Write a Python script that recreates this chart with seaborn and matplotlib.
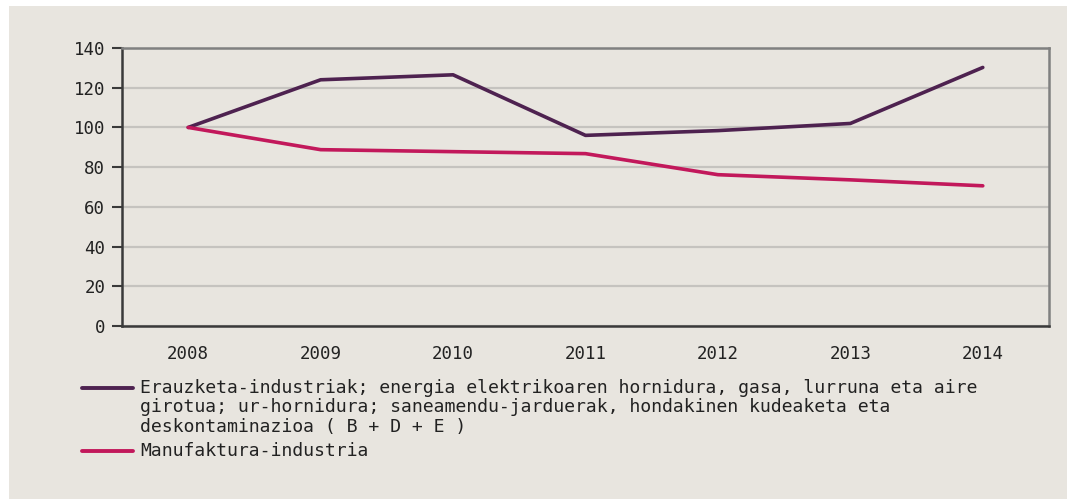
import matplotlib
matplotlib.use("Agg")
import matplotlib.pyplot as plt
from matplotlib.lines import Line2D
from matplotlib.patches import Rectangle
import seaborn as sns
import pandas as pd

years = ["2008", "2009", "2010", "2011", "2012", "2013", "2014"]
series1_name = ("Erauzketa-industriak; energia elektrikoaren hornidura, gasa, lurruna eta aire\n"
                "girotua; ur-hornidura; saneamendu-jarduerak, hondakinen kudeaketa eta\n"
                "deskontaminazioa ( B + D + E )")
series2_name = "Manufaktura-industria"
series1 = [100, 124.0, 126.5, 96.0, 98.4, 102.0, 130.2]
series2 = [100, 88.8, 87.8, 86.8, 76.2, 73.6, 70.6]
yticks = [0, 20, 40, 60, 80, 100, 120, 140]

c1 = "#4e2250"
c2 = "#c2185b"
bg = "#e8e5df"

sns.set_theme(style="white")
plt.rcParams['font.family'] = ['DejaVu Sans Mono', 'DejaVu Sans']

W, H = 1067, 499
fig = plt.figure(figsize=(W / 100, H / 100), dpi=100, facecolor="white")
fig.add_artist(Rectangle((9 / W, 0), 1 - 9 / W, 1 - 6 / H, transform=fig.transFigure,
                         facecolor=bg, edgecolor="none", zorder=-10))

ax = fig.add_axes([122 / W, 1 - 326 / H, (1049 - 122) / W, (326 - 48) / H])
ax.set_facecolor(bg)

df = pd.DataFrame({
    "year": years * 2,
    "value": series1 + series2,
    "series": [series1_name] * len(years) + [series2_name] * len(years),
})
sns.lineplot(data=df, x="year", y="value", hue="series", palette=[c1, c2],
             linewidth=2.6, legend=False, ax=ax, sort=False)

ax.set_xlim(-0.5, len(years) - 0.5)
ax.set_ylim(0, 140)
ax.set_yticks(yticks)
ax.set_yticklabels([str(v) for v in yticks])
ax.set_xlabel("")
ax.set_ylabel("")
ax.yaxis.grid(True, color="#c5c3bf", linewidth=1.6)
ax.set_axisbelow(True)
for s in ["left", "bottom"]:
    ax.spines[s].set_color("#3a3a3a")
    ax.spines[s].set_linewidth(1.8)
for s in ["top", "right"]:
    ax.spines[s].set_color("#808080")
    ax.spines[s].set_linewidth(1.8)
ax.tick_params(axis="y", left=True, length=7, width=1.5, color="#3a3a3a",
               pad=5, labelsize=12.5, labelcolor="#222222")
ax.tick_params(axis="x", bottom=False, length=0, pad=14, labelsize=12.5, labelcolor="#222222")

# legend drawn manually (handle aligned with first line of the label)
def add_entry(y_px, color, text):
    yf = 1 - y_px / H
    fig.add_artist(Line2D([82 / W, 133 / W], [yf, yf], transform=fig.transFigure,
                          color=color, linewidth=2.8, solid_capstyle="round"))
    fig.text(140 / W, yf + 9 / H, text, ha="left", va="top", fontsize=13.1, color="#222222",
             linespacing=1.1, transform=fig.transFigure)

add_entry(388, c1, series1_name)
add_entry(451, c2, series2_name)

fig.savefig("out.png", dpi=100, facecolor="white")
